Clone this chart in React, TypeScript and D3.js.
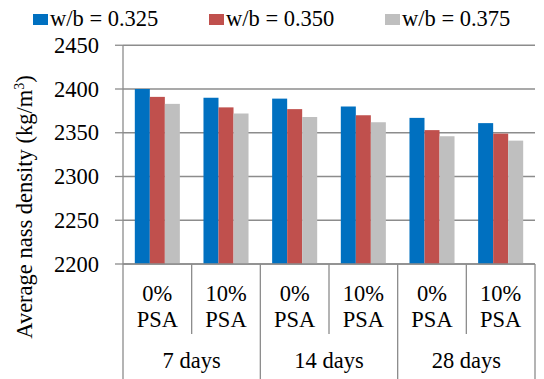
import React from "react";
import * as d3 from "d3";

const ages = ["7 days", "14 days", "28 days"];
const mixes = ["0%", "10%"];
const seriesNames = ["w/b = 0.325", "w/b = 0.350", "w/b = 0.375"];
const seriesColors = ["#0070C0", "#C0504D", "#BFBFBF"];
// values per group: 7d-0%, 7d-10%, 14d-0%, 14d-10%, 28d-0%, 28d-10%
const wb325 = [2400, 2390, 2389, 2380, 2367, 2361];
const wb350 = [2391, 2379, 2377, 2370, 2353, 2349];
const wb375 = [2383, 2372, 2368, 2362, 2346, 2341];
const yTicks = [2200, 2250, 2300, 2350, 2400, 2450];

const W = 544;
const H = 379;
const left = 123;
const right = 535;
const top = 45.25;
const bottom = 264;
const FONT = "Liberation Serif";
const AXIS = "#8C8C8C";
const FS = 22.5;

export default function App() {
  const series = [wb325, wb350, wb375];
  const groups = d3.range(ages.length * mixes.length).map(String);
  const x0 = d3.scaleBand<string>().domain(groups).range([left, right]).paddingInner(0).paddingOuter(0);
  const inner = 0.172;
  const x1 = d3
    .scaleBand<string>()
    .domain(seriesNames)
    .range([x0.bandwidth() * inner, x0.bandwidth() * (1 - inner)]);
  const y = d3.scaleLinear().domain([2200, 2450]).range([bottom, top]);
  const groupW = x0.bandwidth();
  const ts = { fontFamily: FONT, fontSize: FS } as React.CSSProperties;

  return (
    <svg
      width={W}
      height={H}
      style={{ position: "absolute", left: 0, top: 0, background: "#fff" }}
    >
      {/* legend */}
      {seriesNames.map((n, i) => {
        const lx = [33, 209, 385][i];
        return (
          <g key={n}>
            <rect x={lx} y={14} width={15} height={11} fill={seriesColors[i]} />
            <text x={lx + 17} y={26} style={ts} fill="#000">
              {n}
            </text>
          </g>
        );
      })}

      {/* gridlines and y ticks */}
      {yTicks.map((t) => (
        <g key={t}>
          <line x1={left} x2={right} y1={y(t)} y2={y(t)} stroke={AXIS} strokeWidth={1.3} />
          <line x1={115} x2={left} y1={y(t)} y2={y(t)} stroke={AXIS} strokeWidth={1.3} />
          <text x={99} y={y(t) + 7.5} textAnchor="end" style={ts} fill="#000">
            {t}
          </text>
        </g>
      ))}
      <line x1={left} x2={left} y1={top} y2={bottom} stroke={AXIS} strokeWidth={1.3} />

      {/* bars */}
      {groups.map((g, gi) => (
        <g key={g} transform={`translate(${x0(g)},0)`}>
          {series.map((s, si) => (
            <rect
              key={si}
              x={x1(seriesNames[si])}
              y={y(s[gi])}
              width={x1.bandwidth()}
              height={bottom - y(s[gi])}
              fill={seriesColors[si]}
            />
          ))}
        </g>
      ))}

      {/* category axis */}
      <line x1={left} x2={right} y1={bottom} y2={bottom} stroke={AXIS} strokeWidth={1.3} />
      {groups.map((g, gi) => {
        const gx = x0(g)!;
        const cx = gx + groupW / 2;
        const isOuter = gi % mixes.length === 0;
        return (
          <g key={"lab" + g}>
            <line
              x1={gx}
              x2={gx}
              y1={bottom}
              y2={isOuter ? H : 334}
              stroke={AXIS}
              strokeWidth={1.3}
            />
            <text x={cx} y={301} textAnchor="middle" style={ts} fill="#000">
              {mixes[gi % mixes.length]}
            </text>
            <text x={cx} y={327} textAnchor="middle" style={ts} fill="#000">
              PSA
            </text>
          </g>
        );
      })}
      <line x1={right} x2={right} y1={bottom} y2={H} stroke={AXIS} strokeWidth={1.3} />
      {ages.map((a, ai) => {
        const cx = left + groupW * mixes.length * (ai + 0.5);
        return (
          <text key={a} x={cx} y={368} textAnchor="middle" style={ts} fill="#000">
            {a}
          </text>
        );
      })}

      {/* y title */}
      <text
        transform={`translate(32,207) rotate(-90)`}
        textAnchor="middle"
        style={ts}
        fill="#000"
      >
        Average nass density (kg/m
        <tspan dy={-8} style={{ fontSize: 14 }}>
          3
        </tspan>
        <tspan dy={8}>)</tspan>
      </text>
    </svg>
  );
}
